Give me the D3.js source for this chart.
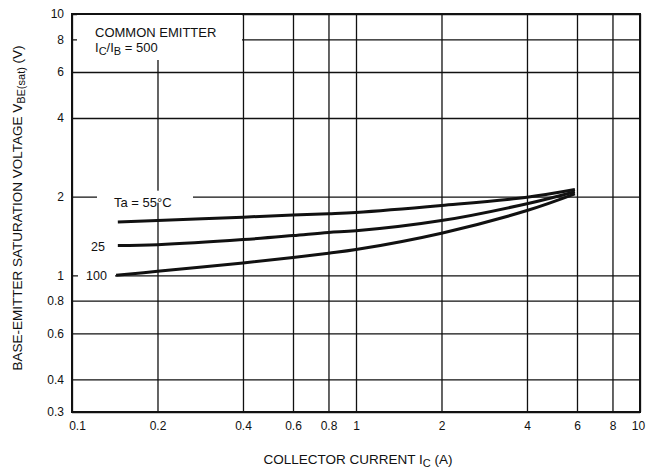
<!DOCTYPE html>
<html>
<head>
<meta charset="utf-8">
<script src="https://cdn.jsdelivr.net/npm/d3@7"></script>
<style>
  body { margin: 0; background: #fff; }
  svg { font-family: "Liberation Sans", Arial, sans-serif; }
</style>
</head>
<body>
<script>
var width = 658,
    height = 470,
    margin = {top: 14, right: 18, bottom: 58, left: 72},
    plotW = width - margin.left - margin.right,
    plotH = height - margin.top - margin.bottom;

// tick values
var xTicks = [0.1, 0.2, 0.4, 0.6, 0.8, 1, 2, 4, 6, 8, 10];
var yTicks = [0.3, 0.4, 0.6, 0.8, 1, 2, 4, 6, 8, 10];

// collector current (A) and VBE(sat) (V)
var ic = [0.145, 0.2, 0.4, 0.6, 0.8, 1, 2, 4, 5.9];
var ic100 = [0.143, 0.2, 0.4, 0.6, 0.8, 1, 2, 4, 5.9];
var v55 = [1.60, 1.62, 1.67, 1.70, 1.72, 1.74, 1.85, 1.99, 2.13];
var v25 = [1.30, 1.31, 1.37, 1.42, 1.46, 1.48, 1.62, 1.88, 2.09];
var v100 = [1.00, 1.036, 1.115, 1.17, 1.215, 1.255, 1.45, 1.77, 2.05];

var series = [
  {name: "55", x: ic, y: v55},
  {name: "25", x: ic, y: v25},
  {name: "100", x: ic100, y: v100}
];

var x = d3.scaleLog().domain([0.1, 10]).range([0, plotW]);
var y = d3.scaleLog().domain([0.3, 10]).range([plotH, 0]);

var svg = d3.select("body").append("svg")
    .attr("width", width)
    .attr("height", height);

var g = svg.append("g")
    .attr("transform", "translate(" + margin.left + "," + margin.top + ")");

// grid via axes
var xAxis = g.append("g")
    .attr("transform", "translate(0," + plotH + ")")
    .call(d3.axisBottom(x).tickValues(xTicks).tickSize(-plotH).tickPadding(9)
      .tickFormat(function(d) { return d3.format("~g")(d); }));

var yAxis = g.append("g")
    .call(d3.axisLeft(y).tickValues(yTicks).tickSize(-plotW).tickPadding(8)
      .tickFormat(function(d) { return d3.format("~g")(d); }));

[xAxis, yAxis].forEach(function(a) {
  a.select(".domain").remove();
  a.selectAll(".tick line").attr("stroke", "#111").attr("stroke-width", 1.3);
  a.selectAll(".tick text").attr("fill", "#111").style("font-size", "12px");
});
xAxis.selectAll(".tick text").attr("dx", function(d) { return d === 0.1 ? 5 : (d === 10 ? -2 : 0); });

// white boxes behind annotations
g.append("rect").attr("x", 5).attr("y", 0).attr("width", 165).attr("height", 46).attr("fill", "#fff");
g.append("rect").attr("x", 25).attr("y", y(2) - 6).attr("width", 96).attr("height", 12).attr("fill", "#fff");
g.append("rect").attr("x", 6).attr("y", y(1) - 6).attr("width", 37).attr("height", 12).attr("fill", "#fff");

// border
g.append("rect")
    .attr("width", plotW)
    .attr("height", plotH)
    .attr("fill", "none")
    .attr("stroke", "#111")
    .attr("stroke-width", 2);

// curves
var line = d3.line()
    .x(function(d) { return x(d[0]); })
    .y(function(d) { return y(d[1]); })
    .curve(d3.curveCatmullRom.alpha(0.5));

g.selectAll(".curve")
    .data(series)
    .enter().append("path")
    .attr("class", "curve")
    .attr("d", function(s) { return line(s.x.map(function(v, i) { return [v, s.y[i]]; })); })
    .attr("fill", "none")
    .attr("stroke", "#111")
    .attr("stroke-width", 3)
    .attr("stroke-linejoin", "round");

// annotations
var note = g.append("text").attr("x", 23).attr("y", 23).style("font-size", "13px").attr("fill", "#111");
note.append("tspan").text("COMMON EMITTER");
var t2 = g.append("text").attr("x", 23).attr("y", 38).style("font-size", "13px").attr("fill", "#111");
t2.append("tspan").text("I");
t2.append("tspan").attr("dy", 3).style("font-size", "11px").text("C");
t2.append("tspan").attr("dy", -3).text("/I");
t2.append("tspan").attr("dy", 3).style("font-size", "11px").text("B");
t2.append("tspan").attr("dy", -3).text(" = 500");

g.append("text").attr("x", 42).attr("y", y(v55[0]) - 15).style("font-size", "13px").attr("fill", "#111").text("Ta = 55°C");
g.append("text").attr("x", 19).attr("y", y(v25[0]) + 1).attr("dy", "0.35em").style("font-size", "12.5px").attr("fill", "#111").text("25");
g.append("text").attr("x", 14).attr("y", y(v100[0])).attr("dy", "0.35em").style("font-size", "12.5px").attr("fill", "#111").text("100");

// axis titles
var xt = svg.append("text")
    .attr("x", margin.left + x(1) + 2)
    .attr("y", 464)
    .attr("text-anchor", "middle")
    .style("font-size", "13.5px")
    .attr("fill", "#111");
xt.append("tspan").text("COLLECTOR CURRENT I");
xt.append("tspan").attr("dy", 3).style("font-size", "11px").text("C");
xt.append("tspan").attr("dy", -3).text(" (A)");

var yt = svg.append("text")
    .attr("transform", "translate(22," + 208 + ") rotate(-90)")
    .attr("text-anchor", "middle")
    .style("font-size", "13.5px")
    .attr("fill", "#111");
yt.append("tspan").text("BASE-EMITTER SATURATION VOLTAGE V");
yt.append("tspan").attr("dy", 3).style("font-size", "11px").text("BE(sat)");
yt.append("tspan").attr("dy", -3).text(" (V)");
</script>
</body>
</html>
